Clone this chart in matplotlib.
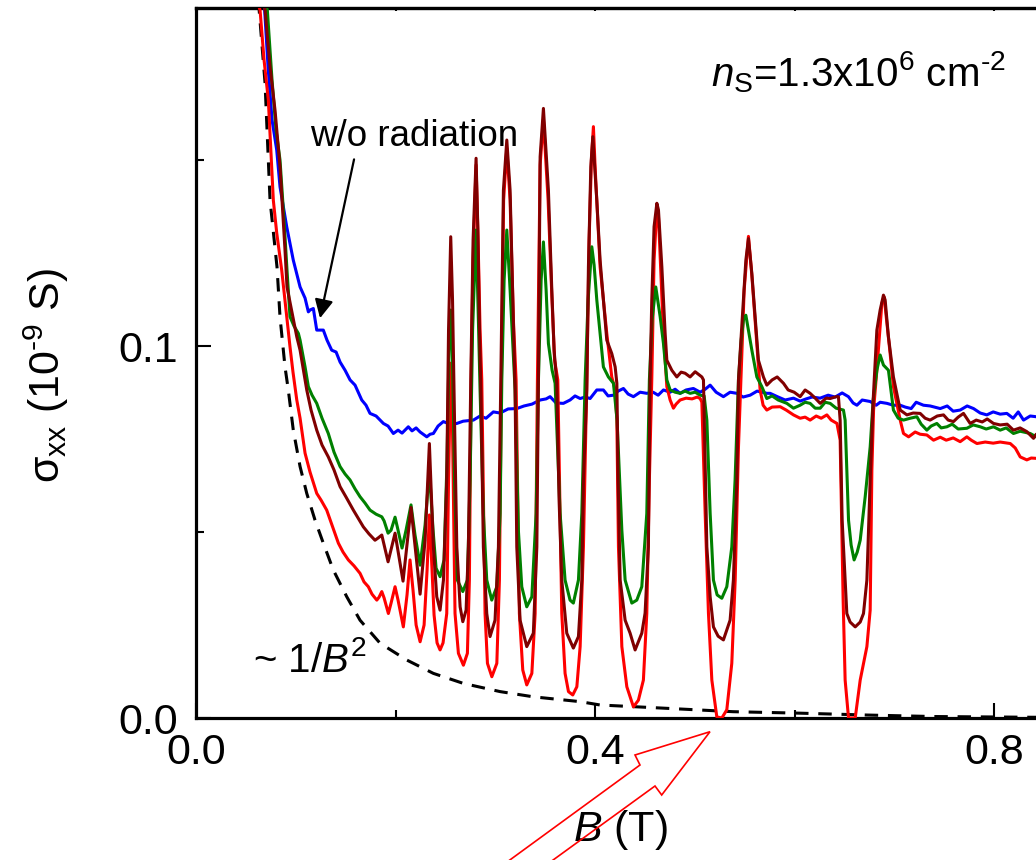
import matplotlib
matplotlib.use("Agg")
import matplotlib.pyplot as plt
from matplotlib.patches import Polygon
from matplotlib.ticker import MultipleLocator

plt.rcParams['font.family'] = ['Liberation Sans', 'DejaVu Sans']
plt.rcParams['mathtext.fontset'] = 'custom'
plt.rcParams['mathtext.rm'] = 'Liberation Sans'
plt.rcParams['mathtext.it'] = 'Liberation Sans:italic'
plt.rcParams['mathtext.default'] = 'regular'

# ---- data: magnetic field B (T) and conductivity sigma_xx (1e-9 S) ----
# ~1/B^2 guide curve
b_fit = [0.0625, 0.0692, 0.0742, 0.0812, 0.0842, 0.0892, 0.0925, 0.0975, 0.1043, 0.111,
         0.1193, 0.1276, 0.1376, 0.1511, 0.1644, 0.1845, 0.2112, 0.2379, 0.268, 0.3048,
         0.3381, 0.385, 0.405, 0.4722, 0.5383, 0.6055, 0.6727, 0.7388, 0.8391, 0.86]
s_fit = [0.193, 0.1707, 0.1392, 0.1212, 0.1078, 0.0944, 0.0882, 0.0774, 0.0676, 0.0604,
         0.0532, 0.047, 0.0398, 0.0326, 0.0263, 0.0201, 0.0156, 0.012, 0.0093, 0.0071,
         0.0057, 0.0044, 0.0035, 0.0026, 0.0017, 0.0013, 0.0008, 0.0004, 0.0002, 0.0002]

# without radiation (blue)
b_off = [0.0682, 0.0722, 0.0762, 0.0809, 0.0842, 0.0909, 0.0975, 0.1043, 0.1093, 0.1126,
         0.1143, 0.1176, 0.121, 0.1276, 0.1313, 0.136, 0.1404, 0.1444, 0.1494, 0.1544,
         0.1594, 0.1661, 0.1704, 0.1744, 0.1805, 0.1878, 0.1925, 0.1978, 0.2025, 0.2065,
         0.2128, 0.2165, 0.2206, 0.2246, 0.2313, 0.2346, 0.2379, 0.2426, 0.2479, 0.2546,
         0.2614, 0.2677, 0.278, 0.2847, 0.2907, 0.298, 0.3048, 0.3128, 0.3215, 0.3288,
         0.3368, 0.3449, 0.3509, 0.3549, 0.3609, 0.3682, 0.3749, 0.3799, 0.385, 0.39,
         0.395, 0.4017, 0.4083, 0.413, 0.4184, 0.4231, 0.4284, 0.4331, 0.4384, 0.4451,
         0.4518, 0.4581, 0.4632, 0.4685, 0.4752, 0.4802, 0.4852, 0.4912, 0.4985, 0.5053,
         0.5103, 0.5153, 0.5213, 0.5286, 0.5353, 0.5421, 0.5484, 0.5554, 0.5624, 0.5721,
         0.5754, 0.5835, 0.5905, 0.5988, 0.6055, 0.6115, 0.6175, 0.6255, 0.6336, 0.6406,
         0.6476, 0.6539, 0.6586, 0.6624, 0.6677, 0.6757, 0.6817, 0.6857, 0.6925, 0.6988,
         0.7058, 0.7108, 0.7168, 0.7218, 0.7291, 0.7358, 0.7459, 0.7529, 0.7589, 0.7659,
         0.7729, 0.7793, 0.786, 0.7926, 0.799, 0.806, 0.8127, 0.819, 0.8241, 0.8294,
         0.8361, 0.8421, 0.85]
s_off = [0.193, 0.1751, 0.1608, 0.1527, 0.1428, 0.1321, 0.1231, 0.1159, 0.1129, 0.1092,
         0.1097, 0.1101, 0.1043, 0.1043, 0.1016, 0.0989, 0.0984, 0.0957, 0.0935, 0.0909,
         0.0895, 0.0855, 0.0841, 0.0819, 0.0812, 0.0792, 0.0785, 0.0765, 0.0774, 0.0766,
         0.0783, 0.0772, 0.078, 0.0769, 0.0756, 0.0763, 0.0765, 0.0785, 0.0797, 0.079,
         0.0792, 0.0798, 0.0801, 0.0812, 0.0806, 0.0823, 0.082, 0.0831, 0.0832, 0.0839,
         0.0844, 0.0855, 0.0858, 0.0864, 0.0847, 0.0846, 0.0855, 0.0866, 0.0859, 0.0863,
         0.0859, 0.0882, 0.0882, 0.0866, 0.0868, 0.0879, 0.0886, 0.0871, 0.0864, 0.0876,
         0.0873, 0.0876, 0.0868, 0.0882, 0.0876, 0.0884, 0.0873, 0.0882, 0.0886, 0.0876,
         0.0884, 0.0895, 0.0876, 0.0864, 0.0876, 0.0873, 0.0863, 0.0868, 0.0879, 0.0873,
         0.0873, 0.0863, 0.0855, 0.086, 0.0852, 0.0858, 0.0863, 0.086, 0.0868, 0.0863,
         0.0874, 0.0864, 0.0847, 0.0841, 0.0855, 0.0851, 0.0841, 0.0849, 0.0846, 0.0841,
         0.0841, 0.0836, 0.0832, 0.0849, 0.0841, 0.0839, 0.0832, 0.0839, 0.0825, 0.0828,
         0.0839, 0.0832, 0.082, 0.0815, 0.0823, 0.0817, 0.0819, 0.0806, 0.0823, 0.0801,
         0.0812, 0.081, 0.0808]

# with radiation, run 1 (dark red)
b_mw1 = [0.0672, 0.0692, 0.0742, 0.0792, 0.0842, 0.0892, 0.0912, 0.101, 0.1043, 0.111,
         0.1153, 0.121, 0.1263, 0.1326, 0.1383, 0.1444, 0.1504, 0.1577, 0.1624, 0.1677,
         0.1734, 0.1794, 0.1825, 0.1862, 0.1925, 0.1995, 0.2075, 0.2155, 0.2246, 0.2296,
         0.2339, 0.2379, 0.2413, 0.2446, 0.248, 0.2513, 0.2531, 0.2553, 0.2571, 0.2591,
         0.2614, 0.2647, 0.2674, 0.2707, 0.273, 0.2754, 0.2777, 0.2807, 0.2825, 0.284,
         0.2857, 0.288, 0.2914, 0.2947, 0.2997, 0.3031, 0.3055, 0.3081, 0.3115, 0.3148,
         0.3181, 0.3198, 0.3215, 0.3248, 0.3315, 0.3381, 0.3416, 0.3432, 0.3449, 0.3482,
         0.3532, 0.3566, 0.3589, 0.3616, 0.3639, 0.3666, 0.3716, 0.3782, 0.3833, 0.3867,
         0.3883, 0.3917, 0.3933, 0.3957, 0.3977, 0.4017, 0.405, 0.4083, 0.4117, 0.4167,
         0.4201, 0.4218, 0.4231, 0.4251, 0.4301, 0.4351, 0.4401, 0.4468, 0.4501, 0.4534,
         0.4551, 0.4568, 0.4591, 0.4619, 0.4635, 0.4669, 0.4702, 0.4719, 0.4769, 0.4819,
         0.4862, 0.4902, 0.4952, 0.5003, 0.507, 0.5086, 0.512, 0.5153, 0.5186, 0.5233,
         0.5286, 0.5353, 0.5386, 0.5421, 0.5437, 0.5487, 0.5511, 0.5537, 0.5571, 0.5604,
         0.5637, 0.5687, 0.5721, 0.5774, 0.5825, 0.5888, 0.5935, 0.5995, 0.6055, 0.6105,
         0.6155, 0.6206, 0.6256, 0.6316, 0.6356, 0.6416, 0.6439, 0.6456, 0.6476, 0.6523,
         0.6556, 0.6607, 0.6657, 0.669, 0.6724, 0.6757, 0.6787, 0.6824, 0.6857, 0.689,
         0.6907, 0.694, 0.699, 0.7058, 0.7125, 0.7188, 0.7258, 0.7308, 0.7358, 0.7429,
         0.7492, 0.7539, 0.7592, 0.7639, 0.7692, 0.7759, 0.782, 0.788, 0.793, 0.7993,
         0.806, 0.813, 0.8193, 0.826, 0.8327, 0.8394, 0.8421, 0.85]
s_mw1 = [0.193, 0.1903, 0.1751, 0.1634, 0.1482, 0.1258, 0.1159, 0.1025, 0.0989, 0.0882,
         0.0828, 0.0774, 0.0734, 0.0702, 0.0667, 0.0622, 0.0594, 0.0559, 0.0538, 0.0514,
         0.0495, 0.0478, 0.0484, 0.0492, 0.042, 0.0497, 0.0368, 0.0566, 0.0333, 0.0478,
         0.0738, 0.046, 0.0326, 0.029, 0.0371, 0.064, 0.1043, 0.1294, 0.1124, 0.0801,
         0.046, 0.0299, 0.0259, 0.029, 0.046, 0.0909, 0.1285, 0.1505, 0.1312, 0.1061,
         0.0855, 0.046, 0.0281, 0.0219, 0.0263, 0.046, 0.0909, 0.1419, 0.1554, 0.1419,
         0.1061, 0.0882, 0.046, 0.0263, 0.0192, 0.0228, 0.046, 0.0909, 0.1509, 0.1639,
         0.1419, 0.1151, 0.0989, 0.09, 0.0586, 0.0371, 0.0228, 0.0188, 0.0219, 0.0371,
         0.064, 0.0882, 0.1213, 0.1482, 0.1563, 0.1392, 0.1231, 0.1124, 0.1016, 0.098,
         0.0944, 0.09, 0.064, 0.0371, 0.0263, 0.0228, 0.0183, 0.0228, 0.0282, 0.046,
         0.0909, 0.1124, 0.1321, 0.1384, 0.1366, 0.1213, 0.1034, 0.0962, 0.0935, 0.0917,
         0.093, 0.0927, 0.0917, 0.0931, 0.0917, 0.0909, 0.046, 0.0326, 0.0245, 0.022,
         0.021, 0.0263, 0.0371, 0.064, 0.0909, 0.1124, 0.1231, 0.1289, 0.1195, 0.1079,
         0.0962, 0.0917, 0.0895, 0.0909, 0.0917, 0.09, 0.0882, 0.0876, 0.0864, 0.0882,
         0.0873, 0.086, 0.0846, 0.086, 0.0859, 0.0864, 0.0864, 0.0801, 0.0532, 0.0281,
         0.0258, 0.0245, 0.0258, 0.0281, 0.0371, 0.064, 0.0855, 0.1043, 0.1097, 0.1137,
         0.1124, 0.1025, 0.0917, 0.0828, 0.0815, 0.082, 0.0819, 0.0806, 0.0801, 0.0812,
         0.0815, 0.0801, 0.0797, 0.0809, 0.0819, 0.0792, 0.0801, 0.0796, 0.0804, 0.0792,
         0.0788, 0.079, 0.0774, 0.078, 0.077, 0.0752, 0.0763, 0.075]

# with radiation, run 2 (green)
b_mw2 = [0.0692, 0.0715, 0.0762, 0.0802, 0.0842, 0.0882, 0.0912, 0.0942, 0.0982, 0.1026,
         0.1043, 0.1093, 0.1126, 0.1163, 0.121, 0.1263, 0.1326, 0.1383, 0.1444, 0.1494,
         0.1544, 0.1594, 0.1644, 0.1694, 0.1744, 0.1805, 0.1862, 0.1885, 0.1925, 0.1955,
         0.1995, 0.2025, 0.2065, 0.2105, 0.2155, 0.2195, 0.2246, 0.2296, 0.2339, 0.2376,
         0.2406, 0.2446, 0.2486, 0.2516, 0.2536, 0.2553, 0.2571, 0.2591, 0.2619, 0.2674,
         0.272, 0.2747, 0.2772, 0.2807, 0.2831, 0.2847, 0.288, 0.2914, 0.2964, 0.3015,
         0.3048, 0.3065, 0.3088, 0.3115, 0.3148, 0.3181, 0.3198, 0.3231, 0.3265, 0.3315,
         0.3366, 0.3409, 0.3432, 0.3459, 0.3482, 0.3509, 0.3532, 0.3569, 0.3599, 0.3649,
         0.3699, 0.3749, 0.3782, 0.3833, 0.3867, 0.39, 0.393, 0.3967, 0.399, 0.4017,
         0.405, 0.4083, 0.4133, 0.4184, 0.422, 0.4268, 0.4301, 0.4368, 0.4418, 0.4468,
         0.4518, 0.4544, 0.4571, 0.4608, 0.4652, 0.4685, 0.4719, 0.4752, 0.4802, 0.4852,
         0.4902, 0.4952, 0.5003, 0.5053, 0.5093, 0.512, 0.5153, 0.5186, 0.5223, 0.527,
         0.532, 0.537, 0.5403, 0.5437, 0.5464, 0.5489, 0.5511, 0.5537, 0.5571, 0.5621,
         0.5671, 0.5721, 0.5774, 0.5835, 0.5922, 0.5988, 0.6055, 0.6105, 0.6155, 0.6206,
         0.6256, 0.6306, 0.6356, 0.6416, 0.6489, 0.6506, 0.654, 0.6566, 0.6596, 0.6627,
         0.6657, 0.6707, 0.6757, 0.6787, 0.6824, 0.6857, 0.689, 0.694, 0.699, 0.7038,
         0.7091, 0.7158, 0.7225, 0.7268, 0.7325, 0.7368, 0.7425, 0.7469, 0.7526, 0.7579,
         0.7639, 0.7726, 0.779, 0.786, 0.792, 0.7993, 0.806, 0.812, 0.8193, 0.826,
         0.8361, 0.8421, 0.85]
s_mw2 = [0.193, 0.1903, 0.1715, 0.1581, 0.15, 0.1339, 0.1204, 0.1079, 0.1054, 0.1034,
         0.1016, 0.0944, 0.0891, 0.0868, 0.0846, 0.0806, 0.0765, 0.0715, 0.0676, 0.0656,
         0.064, 0.0616, 0.0595, 0.0578, 0.0559, 0.0548, 0.0541, 0.053, 0.0497, 0.0505,
         0.054, 0.0505, 0.0457, 0.0505, 0.0573, 0.0492, 0.0411, 0.0519, 0.0667, 0.0505,
         0.0403, 0.038, 0.0425, 0.0694, 0.0989, 0.1097, 0.0962, 0.064, 0.0371, 0.034,
         0.0371, 0.064, 0.1043, 0.1312, 0.1061, 0.0882, 0.055, 0.0371, 0.0317, 0.0353,
         0.055, 0.0909, 0.1177, 0.1312, 0.1151, 0.0971, 0.0882, 0.0505, 0.0353, 0.0299,
         0.0326, 0.055, 0.0909, 0.1177, 0.128, 0.1151, 0.1007, 0.0935, 0.09, 0.055,
         0.0371, 0.0317, 0.0309, 0.0371, 0.0551, 0.0909, 0.1124, 0.1267, 0.1218, 0.1124,
         0.1034, 0.0944, 0.0917, 0.09, 0.0801, 0.0505, 0.0371, 0.0309, 0.0317, 0.0353,
         0.055, 0.0909, 0.107, 0.1159, 0.1079, 0.1007, 0.0909, 0.0882, 0.0876, 0.0873,
         0.0879, 0.0873, 0.0876, 0.0868, 0.0866, 0.0801, 0.0551, 0.0371, 0.0331, 0.0322,
         0.0353, 0.046, 0.064, 0.0909, 0.1016, 0.1075, 0.1083, 0.1043, 0.0989, 0.0917,
         0.0891, 0.0859, 0.0866, 0.0855, 0.0846, 0.0833, 0.0841, 0.0849, 0.0846, 0.0833,
         0.0833, 0.0849, 0.0846, 0.0833, 0.0828, 0.0801, 0.0532, 0.0465, 0.0425, 0.0446,
         0.0478, 0.0595, 0.0729, 0.0855, 0.0935, 0.0976, 0.0949, 0.0935, 0.0828, 0.0806,
         0.0801, 0.0806, 0.081, 0.079, 0.0774, 0.0785, 0.0792, 0.078, 0.0783, 0.079,
         0.0777, 0.0779, 0.0788, 0.0783, 0.0777, 0.0783, 0.0774, 0.078, 0.0765, 0.0771,
         0.0765, 0.0756, 0.0752]

# with radiation, run 3 (red)
b_mw3 = [0.0612, 0.0642, 0.0682, 0.0725, 0.0775, 0.0809, 0.0859, 0.0909, 0.0942, 0.0972,
         0.101, 0.1043, 0.1093, 0.1143, 0.121, 0.1253, 0.131, 0.1363, 0.1427, 0.1474,
         0.1527, 0.1584, 0.1644, 0.1684, 0.1727, 0.1764, 0.1812, 0.1835, 0.1862, 0.1885,
         0.1928, 0.1955, 0.1995, 0.2025, 0.2078, 0.2115, 0.2145, 0.2175, 0.2206, 0.2246,
         0.2286, 0.2316, 0.2339, 0.2361, 0.2386, 0.2416, 0.2446, 0.2476, 0.2513, 0.2531,
         0.2553, 0.2571, 0.2596, 0.263, 0.268, 0.272, 0.274, 0.2757, 0.2777, 0.2807,
         0.2827, 0.2847, 0.2864, 0.2897, 0.2921, 0.2965, 0.3015, 0.3041, 0.3061, 0.3083,
         0.3115, 0.3148, 0.3181, 0.3208, 0.3241, 0.3275, 0.3315, 0.3366, 0.3399, 0.3422,
         0.3449, 0.3482, 0.3529, 0.3566, 0.3594, 0.3626, 0.3666, 0.3699, 0.3733, 0.3776,
         0.3817, 0.385, 0.3883, 0.3917, 0.394, 0.3963, 0.3983, 0.4, 0.405, 0.4117,
         0.4167, 0.4201, 0.4218, 0.4234, 0.4268, 0.4318, 0.4384, 0.4434, 0.4484, 0.4518,
         0.4544, 0.4568, 0.4591, 0.4619, 0.4635, 0.4685, 0.4719, 0.4752, 0.4785, 0.4812,
         0.4852, 0.4912, 0.4972, 0.5023, 0.5053, 0.507, 0.5103, 0.5136, 0.517, 0.522,
         0.527, 0.532, 0.537, 0.5404, 0.5437, 0.5461, 0.5494, 0.5537, 0.5571, 0.5604,
         0.5637, 0.5654, 0.5684, 0.5721, 0.5774, 0.5855, 0.5915, 0.5988, 0.6055, 0.6105,
         0.6155, 0.6216, 0.6266, 0.6323, 0.6366, 0.6424, 0.6456, 0.6486, 0.6506, 0.654,
         0.6607, 0.6657, 0.6724, 0.6757, 0.6774, 0.6791, 0.6824, 0.6874, 0.6897, 0.6957,
         0.699, 0.7058, 0.7091, 0.7142, 0.7208, 0.7258, 0.7325, 0.7392, 0.7459, 0.7519,
         0.7589, 0.7659, 0.7726, 0.777, 0.7827, 0.791, 0.799, 0.806, 0.8161, 0.8211,
         0.8261, 0.8327, 0.8371, 0.8421, 0.85]
s_mw3 = [0.193, 0.1903, 0.1769, 0.1661, 0.1392, 0.1304, 0.1204, 0.1079, 0.0998, 0.093,
         0.0855, 0.0806, 0.0712, 0.0661, 0.0604, 0.0586, 0.0559, 0.0519, 0.047, 0.0446,
         0.0425, 0.0409, 0.0389, 0.0366, 0.0353, 0.0333, 0.0317, 0.0325, 0.034, 0.0323,
         0.0281, 0.0309, 0.0353, 0.0317, 0.0245, 0.0331, 0.0425, 0.0344, 0.025, 0.0205,
         0.025, 0.0398, 0.0546, 0.0425, 0.0277, 0.0202, 0.0183, 0.0202, 0.0281, 0.064,
         0.0954, 0.0774, 0.0281, 0.0174, 0.0142, 0.0174, 0.0371, 0.0909, 0.1231, 0.1487,
         0.1285, 0.1043, 0.0909, 0.0281, 0.0147, 0.0111, 0.0147, 0.0371, 0.0909, 0.1392,
         0.1532, 0.1392, 0.107, 0.0909, 0.0281, 0.0129, 0.0089, 0.012, 0.0281, 0.0909,
         0.1487, 0.161, 0.1392, 0.1137, 0.0962, 0.0909, 0.0281, 0.012, 0.0071, 0.0062,
         0.0084, 0.0192, 0.046, 0.0909, 0.1285, 0.15, 0.159, 0.1482, 0.1213, 0.1034,
         0.0917, 0.0882, 0.0801, 0.046, 0.0192, 0.0084, 0.003, 0.0048, 0.0102, 0.0281,
         0.064, 0.0909, 0.1231, 0.1371, 0.1348, 0.1034, 0.0891, 0.0855, 0.0833, 0.0844,
         0.0855, 0.086, 0.0858, 0.0863, 0.0859, 0.0849, 0.0551, 0.0282, 0.0102, 0.0003,
         0.0, 0.0022, 0.0147, 0.0371, 0.0729, 0.0909, 0.1151, 0.1295, 0.119, 0.107,
         0.0946, 0.0882, 0.0841, 0.0828, 0.0836, 0.0837, 0.0828, 0.0815, 0.0806, 0.0809,
         0.0801, 0.0812, 0.0806, 0.0815, 0.0801, 0.0792, 0.0747, 0.0317, 0.0102, 0.0,
         0.0, 0.0102, 0.0192, 0.029, 0.0667, 0.0828, 0.0935, 0.1115, 0.1132, 0.098,
         0.0891, 0.0801, 0.0765, 0.0756, 0.0769, 0.0763, 0.0761, 0.0747, 0.0755, 0.0747,
         0.0753, 0.0743, 0.0756, 0.0747, 0.0738, 0.0742, 0.0739, 0.0742, 0.0738, 0.0726,
         0.0702, 0.0694, 0.0699, 0.0698, 0.0698]

x_ticks = [0.0, 0.4, 0.8]
x_tick_labels = ['0.0', '0.4', '0.8']
y_ticks = [0.0, 0.1]
y_tick_labels = ['0.0', '0.1']

# ---- figure ----
fig = plt.figure(figsize=(10.36, 8.6), dpi=100)
ax = fig.add_axes([0.1892, 0.1651, 0.8186, 0.8256])
ax.set_xlim(0, 0.85)
ax.set_ylim(0, 0.1909)

lw = 2.2
ax.plot(b_fit, s_fit, color='black', lw=2.2, dashes=(4.4, 3.2), zorder=2)
ax.plot(b_off, s_off, color='#0000FF', lw=lw, zorder=3)
ax.plot(b_mw3, s_mw3, color='#FF0000', lw=lw, zorder=4)
ax.plot(b_mw2, s_mw2, color='#008000', lw=lw, zorder=5)
ax.plot(b_mw1, s_mw1, color='#800000', lw=lw, zorder=6)

# axes styling
for side in ['left', 'bottom', 'top', 'right']:
    ax.spines[side].set_linewidth(2.3)
ax.set_xticks(x_ticks)
ax.set_xticklabels(x_tick_labels)
ax.set_yticks(y_ticks)
ax.set_yticklabels(y_tick_labels)
ax.xaxis.set_minor_locator(MultipleLocator(0.2))
ax.yaxis.set_minor_locator(MultipleLocator(0.05))
ax.tick_params(which='both', direction='in', width=1.5, labelsize=31)
ax.tick_params(which='major', length=10.8)
ax.tick_params(which='minor', length=5.8)
ax.tick_params(axis='x', pad=11)
ax.tick_params(axis='y', pad=13)

top = ax.secondary_xaxis('top')
top.set_xticks(x_ticks)
top.xaxis.set_minor_locator(MultipleLocator(0.2))
top.tick_params(which='both', direction='in', length=2.2, width=1.5, labeltop=False)
top.spines['top'].set_linewidth(2.3)

ax.set_xlabel(r'$\mathit{B}$ (T)', fontsize=31, va='center')
ax.xaxis.set_label_coords(0.501, -0.158)
ax.set_ylabel(r'$\sigma_{xx}$ (10$^{\text{-9}}$ S)', fontsize=31, va='center')
ax.yaxis.set_label_coords(-0.176, 0.483)

# annotations
ax.text(0.1143, 0.1538, 'w/o radiation', fontsize=26.5, ha='left', va='baseline')
ax.annotate('', xy=(0.1243, 0.1075), xytext=(0.1584, 0.1502),
            arrowprops=dict(arrowstyle='-|>', color='black', lw=1.6,
                            mutation_scale=28, shrinkA=0, shrinkB=0))
ax.text(0.5163, 0.1699, r'$\mathit{n}_{S}$=1.3x10$^{6}$ cm$^{\text{-2}}$', fontsize=29,
        ha='left', va='baseline')
ax.text(0.0571, 0.0124, r'~ 1/$\mathit{B}^{2}$', fontsize=29, ha='left', va='baseline')

# hollow red arrow pointing at the resonance dip (figure pixel outline)
W, H = 1036.0, 860.0
outline_px = [(455, 900), (640, 765), (635, 755), (710, 731.7),
              (661.7, 795), (655, 786), (498, 900)]
outline = [(x / W, 1 - y / H) for x, y in outline_px]
fig.patches.append(Polygon(outline, closed=True, fill=False, edgecolor='#FF0000',
                           lw=1.2, transform=fig.transFigure, figure=fig,
                           clip_on=False, zorder=10))

fig.savefig('out.png', dpi=100)
